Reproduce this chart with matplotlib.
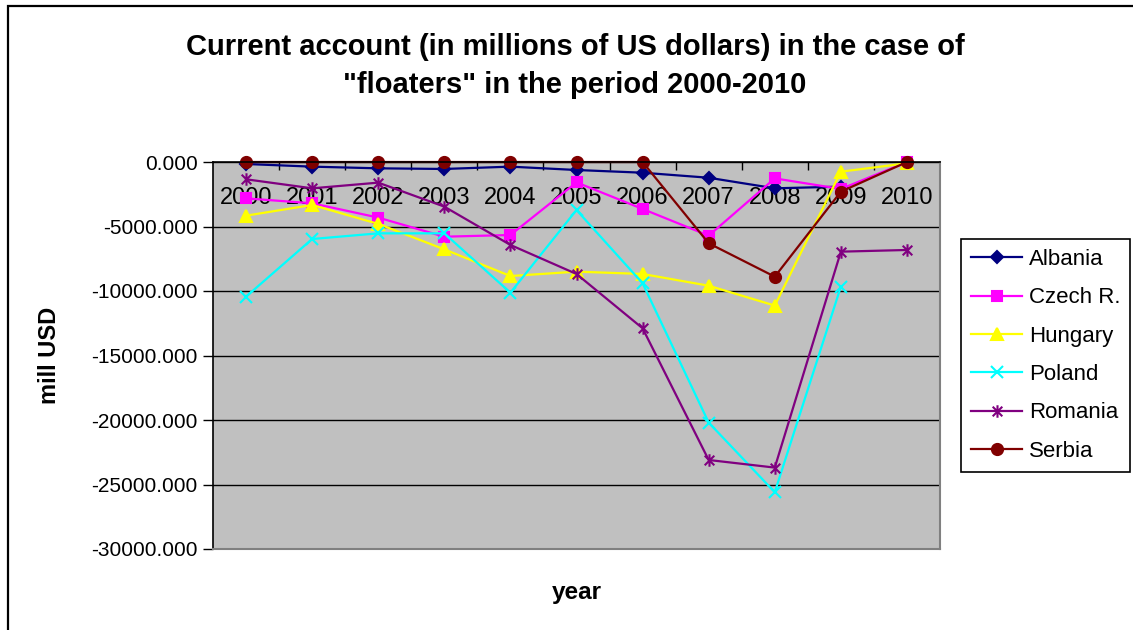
import numpy as np
import matplotlib
matplotlib.use("Agg")
import matplotlib.pyplot as plt
from matplotlib.path import Path
from matplotlib.patches import Rectangle
from matplotlib.ticker import FormatStrFormatter, MultipleLocator

plt.rcParams['font.family'] = ['Liberation Sans', 'DejaVu Sans']

years = [2000, 2001, 2002, 2003, 2004, 2005, 2006, 2007, 2008, 2009, 2010]
albania = [-155, -360, -490, -540, -360, -620, -830, -1220, -2040, -1910, np.nan]
czech = [-2820, -3200, -4310, -5790, -5660, -1580, -3640, -5710, -1270, -2090, 0]
hungary = [-4160, -3330, -4800, -6770, -8840, -8500, -8680, -9590, -11130, -750, -100]
poland = [-10440, -5970, -5530, -5530, -10130, -3720, -9400, -20200, -25600, -9660, np.nan]
romania = [-1340, -2040, -1600, -3460, -6430, -8680, -12890, -23100, -23690, -6950, -6820]
serbia = [0, 0, 0, 0, 0, 0, 0, -6300, -8890, -2300, 0]

# excel style "star" marker: an x with a vertical bar through it
star = Path([(-1, -1), (1, 1), (-1, 1), (1, -1), (0, -1.3), (0, 1.3)],
            [Path.MOVETO, Path.LINETO, Path.MOVETO, Path.LINETO, Path.MOVETO, Path.LINETO])

series = [
    ("Albania", albania, '#000080', 'D', 6),
    ("Czech R.", czech, '#FF00FF', 's', 7),
    ("Hungary", hungary, '#FFFF00', '^', 9),
    ("Poland", poland, '#00FFFF', 'x', 9),
    ("Romania", romania, '#800080', star, 9),
    ("Serbia", serbia, '#800000', 'o', 8),
]

fig = plt.figure(figsize=(11.33, 6.3), dpi=100)
ax = fig.add_axes([213 / 1133, 1 - 549 / 630, 727 / 1133, 387 / 630])
ax.set_facecolor('#C0C0C0')

x = np.arange(len(years))
for name, vals, col, mk, ms in series:
    ax.plot(x, vals, color=col, lw=1.6, marker=mk, markersize=ms,
            markerfacecolor=col, markeredgecolor=col, markeredgewidth=1.5,
            label=name, clip_on=False)

ax.set_xlim(-0.5, len(years) - 0.5)
ax.set_ylim(-30000, 0)
ax.yaxis.set_major_locator(MultipleLocator(5000))
ax.yaxis.set_major_formatter(FormatStrFormatter('%.3f'))
ax.grid(axis='y', color='black', lw=1)
ax.set_axisbelow(True)

# category axis sits on the zero line at the top, labels hang inside the plot
ax.xaxis.tick_top()
ax.set_xticks(x)
ax.set_xticklabels([str(y) for y in years], fontsize=17)
ax.set_xticks(x[:-1] + 0.5, minor=True)
ax.tick_params(axis='x', which='major', length=0, pad=-34)
ax.tick_params(axis='x', which='minor', direction='in', length=6, width=1, color='black')
ax.tick_params(axis='y', direction='out', length=7, width=1, labelsize=15, pad=4)

for s in ['left', 'top']:
    ax.spines[s].set_color('black')
    ax.spines[s].set_linewidth(1.2)
for s in ['right', 'bottom']:
    ax.spines[s].set_color('#808080')
    ax.spines[s].set_linewidth(1.5)

ax.xaxis.set_label_position('bottom')
ax.set_xlabel('year', fontsize=17.5, fontweight='bold', labelpad=23)
ax.set_ylabel('mill USD', fontsize=17, fontweight='bold', labelpad=22)

fig.text(575 / 1133, 1 - 66 / 630,
         'Current account (in millions of US dollars) in the case of\n"floaters" in the period 2000-2010',
         ha='center', va='center', fontsize=21, fontweight='bold', linespacing=1.45)

leg = fig.legend(loc='upper left', bbox_to_anchor=(961 / 1133, 1 - 239 / 630),
                 fontsize=16, frameon=True, fancybox=False, edgecolor='black',
                 handlelength=2.3, handletextpad=0.3, labelspacing=0.78,
                 borderpad=0.45, borderaxespad=0)
leg.get_frame().set_linewidth(1.2)
leg.get_frame().set_alpha(1)

# outer chart border (only the top and left edges fall inside the picture)
fig.patches.append(Rectangle((8 / 1133, -0.2), 1.2, 0.2 + 1 - 6 / 630, transform=fig.transFigure,
                             fill=False, edgecolor='black', lw=1.6))

fig.savefig('out.png', dpi=100)
